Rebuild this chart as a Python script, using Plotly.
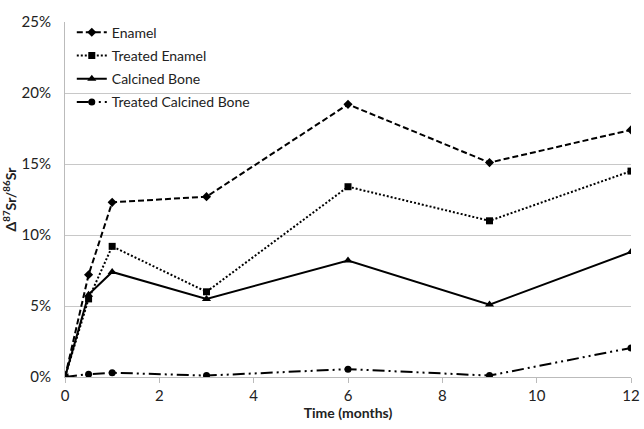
import plotly.graph_objects as go

time = [0, 0.5, 1, 3, 6, 9, 12]
enamel = [0.0, 7.2, 12.3, 12.7, 19.2, 15.1, 17.4]
treated_enamel = [0.0, 5.5, 9.2, 6.0, 13.4, 11.0, 14.5]
calcined_bone = [0.0, 5.8, 7.4, 5.5, 8.2, 5.1, 8.8]
treated_calcined_bone = [0.0, 0.2, 0.3, 0.1, 0.55, 0.1, 2.05]

series = [
    ("Enamel", enamel, "6px,3px", "diamond", 7),
    ("Treated Enamel", treated_enamel, "2px,2px", "square", 7),
    ("Calcined Bone", calcined_bone, "solid", "triangle-up", 8),
    ("Treated Calcined Bone", treated_calcined_bone, "12px,4px,2px,4px,2px,4px", "circle", 7),
]

fig = go.Figure()
for name, vals, dash, sym, sz in series:
    fig.add_trace(go.Scatter(
        x=time, y=[v / 100 for v in vals], name=name, mode="lines+markers",
        legendgroup=name,
        line=dict(color="black", width=2, dash=dash),
        marker=dict(symbol=sym, size=sz, color="black"),
    ))

font = "Lato, 'Open Sans', sans-serif"
fig.update_layout(
    width=644, height=429,
    margin=dict(l=65, r=13, t=22, b=52),
    plot_bgcolor="white", paper_bgcolor="white",
    font=dict(family=font, size=14, color="#222"),
    showlegend=True,
    legend=dict(x=0.012, y=1.015, xanchor="left", yanchor="top",
                bgcolor="rgba(0,0,0,0)", font=dict(size=14, color="#222"),
                tracegroupgap=2, itemwidth=30),
    xaxis=dict(range=[0, 12], tickvals=[0, 2, 4, 6, 8, 10, 12],
               showgrid=False, showline=True, linecolor="#bbbbbb", linewidth=1,
               ticks="outside", tickcolor="#bbbbbb", ticklen=5,
               zeroline=False, automargin=False,
               title=dict(text="<b>Time (months)</b>", font=dict(size=14), standoff=4),
               tickfont=dict(size=15)),
    yaxis=dict(range=[0, 0.25], tickvals=[0, 0.05, 0.10, 0.15, 0.20, 0.25],
               tickformat=".0%", showgrid=True, gridcolor="#c8c8c8", gridwidth=1,
               showline=True, linecolor="#bbbbbb", zeroline=False,
               ticks="", ticklabelstandoff=10, automargin=False,
               title=dict(text="<b>Δ<sup>87</sup>Sr/<sup>86</sup>Sr</b>", font=dict(size=14), standoff=6),
               tickfont=dict(size=15)),
)

fig.write_html("out.html", config={"displayModeBar": False})
with open("out.html", "r", encoding="utf-8") as f:
    html = f.read()
html = html.replace("<head>", "<head><style>html,body{margin:0;padding:0;overflow:hidden}</style>", 1)
with open("out.html", "w", encoding="utf-8") as f:
    f.write(html)
